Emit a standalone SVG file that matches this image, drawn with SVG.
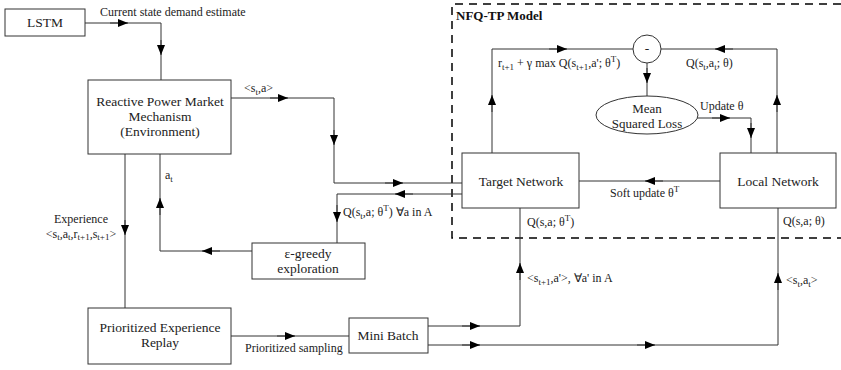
<svg xmlns="http://www.w3.org/2000/svg" width="841" height="370" viewBox="0 0 841 370">
<defs>
<marker id="ah" markerUnits="userSpaceOnUse" markerWidth="10" markerHeight="8" refX="10" refY="4" orient="auto">
<path d="M0,0 L10,4 L0,8 z" fill="#000"/>
</marker>
<style>
.box{fill:#fff;stroke:#333;stroke-width:1}
.ln{fill:none;stroke:#333;stroke-width:1}
.ar{fill:none;stroke:#333;stroke-width:1;marker-end:url(#ah)}
.nt{font-family:'Liberation Serif',serif;font-size:13.5px;fill:#222;text-anchor:middle}
.lb{font-family:'Liberation Serif',serif;font-size:12px;fill:#222}
.sb{font-size:9px}
.dash{fill:none;stroke:#000;stroke-width:1.5;stroke-dasharray:8,6}
</style>
</defs>
<rect width="841" height="370" fill="#fff"/>

<g id="nfq-tp-boundary">
<path class="dash" d="M841,4 H452 V238 H841"/>
<text x="456" y="20" font-family="Liberation Serif, serif" font-size="13" font-weight="bold" fill="#111">NFQ-TP Model</text>
</g>

<g id="connectors" font-family="Liberation Serif, serif">
<path class="ln" d="M85,23 H161 V80"/>
<path class="ar" d="M110,23 H128"/>
<path class="ar" d="M161,40 V55"/>
<path class="ln" d="M231,98 H334 V183 H462"/>
<path class="ar" d="M270,98 H288"/>
<path class="ar" d="M334,130 V145"/>
<path class="ar" d="M385,183 H403"/>
<path class="ln" d="M462,194 H337 V243"/>
<path class="ar" d="M413,194 H395"/>
<path class="ar" d="M337,205 V222"/>
<path class="ln" d="M252,251 H160 V154"/>
<path class="ar" d="M220,251 H202"/>
<path class="ar" d="M160,215 V198"/>
<path class="ln" d="M125,154 V308"/>
<path class="ar" d="M125,220 V235"/>
<path class="ln" d="M231,336 H349"/>
<path class="ar" d="M277,336 H295"/>
<path class="ln" d="M428,326 H520 V208"/>
<path class="ar" d="M462,326 H480"/>
<path class="ar" d="M520,280 V263"/>
<path class="ln" d="M428,345 H778 V208"/>
<path class="ar" d="M462,345 H480"/>
<path class="ar" d="M637,345 H655"/>
<path class="ar" d="M778,290 V273"/>
<path class="ln" d="M720,181 H579"/>
<path class="ar" d="M663,181 H645"/>
<path class="ln" d="M492,153 V49 H633"/>
<path class="ar" d="M492,112 V95"/>
<path class="ar" d="M549,49 H567"/>
<path class="ln" d="M777,153 V49 H661"/>
<path class="ar" d="M777,112 V95"/>
<path class="ar" d="M733,49 H715"/>
<path class="ln" d="M647,63 V96"/>
<path class="ar" d="M647,68 V83"/>
<path class="ln" d="M697,118 H751 V153"/>
<path class="ar" d="M712,118 H730"/>
<path class="ar" d="M751,123 V138"/>

<text class="lb" x="100" y="16">Current state demand estimate</text>
<text class="lb" x="244" y="92">&lt;s<tspan class="sb" dy="3">t</tspan><tspan dy="-3">,a&gt;</tspan></text>
<text class="lb" x="165" y="179">a<tspan class="sb" dy="3">t</tspan></text>
<text class="lb" x="81" y="223" text-anchor="middle">Experience</text>
<text class="lb" x="81" y="238" text-anchor="middle">&lt;s<tspan class="sb" dy="2">t</tspan><tspan dy="-2">,a</tspan><tspan class="sb" dy="2">t</tspan><tspan dy="-2">,r</tspan><tspan class="sb" dy="2">t+1</tspan><tspan dy="-2">,s</tspan><tspan class="sb" dy="2">t+1</tspan><tspan dy="-2">&gt;</tspan></text>
<text class="lb" x="343" y="216">Q(s<tspan class="sb" dy="3">t</tspan><tspan dy="-3">,a; θ</tspan><tspan class="sb" dy="-5">T</tspan><tspan dy="5">) ∀a in A</tspan></text>
<text class="lb" x="245" y="352">Prioritized sampling</text>
<text class="lb" x="527" y="282">&lt;s<tspan class="sb" dy="3">t+1</tspan><tspan dy="-3">,a'&gt;, ∀a' in A</tspan></text>
<text class="lb" x="786" y="284">&lt;s<tspan class="sb" dy="3">t</tspan><tspan dy="-3">,a</tspan><tspan class="sb" dy="3">t</tspan><tspan dy="-3">&gt;</tspan></text>
<text class="lb" x="527" y="226">Q(s,a; θ<tspan class="sb" dy="-5">T</tspan><tspan dy="5">)</tspan></text>
<text class="lb" x="783" y="225">Q(s,a; θ)</text>
<text class="lb" x="610" y="197">Soft update θ<tspan class="sb" dy="-5">T</tspan></text>
<text class="lb" x="498" y="67">r<tspan class="sb" dy="3">t+1</tspan><tspan dy="-3"> + γ max Q(s</tspan><tspan class="sb" dy="3">t+1</tspan><tspan dy="-3">,a'; θ</tspan><tspan class="sb" dy="-5">T</tspan><tspan dy="5">)</tspan></text>
<text class="lb" x="686" y="67">Q(s<tspan class="sb" dy="3">t</tspan><tspan dy="-3">,a</tspan><tspan class="sb" dy="3">t</tspan><tspan dy="-3">; θ)</tspan></text>
<text class="lb" x="700" y="110">Update θ</text>
</g>

<g id="lstm" font-family="Liberation Serif, serif">
<rect class="box" x="5" y="9" width="80" height="27"/>
<text class="nt" x="45" y="27">LSTM</text>
</g>
<g id="environment" font-family="Liberation Serif, serif">
<rect class="box" x="88" y="80" width="143" height="74"/>
<text class="nt" x="160" y="106">Reactive Power Market</text>
<text class="nt" x="160" y="121">Mechanism</text>
<text class="nt" x="160" y="136">(Environment)</text>
</g>
<g id="egreedy" font-family="Liberation Serif, serif">
<rect class="box" x="252" y="243" width="113" height="36"/>
<text class="nt" x="308" y="258">ε-greedy</text>
<text class="nt" x="308" y="273">exploration</text>
</g>
<g id="per" font-family="Liberation Serif, serif">
<rect class="box" x="88" y="308" width="143" height="56"/>
<text class="nt" x="160" y="332">Prioritized Experience</text>
<text class="nt" x="160" y="347">Replay</text>
</g>
<g id="minibatch" font-family="Liberation Serif, serif">
<rect class="box" x="349" y="318" width="79" height="35"/>
<text class="nt" x="388" y="340">Mini Batch</text>
</g>
<g id="target" font-family="Liberation Serif, serif">
<rect class="box" x="462" y="153" width="117" height="55"/>
<text class="nt" x="521" y="186">Target Network</text>
</g>
<g id="local" font-family="Liberation Serif, serif">
<rect class="box" x="720" y="153" width="116" height="55"/>
<text class="nt" x="778" y="186">Local Network</text>
</g>
<g id="minus" font-family="Liberation Serif, serif">
<circle class="box" cx="647" cy="49" r="14"/>
<text class="nt" x="647" y="53">-</text>
</g>
<g id="loss" font-family="Liberation Serif, serif">
<ellipse class="box" cx="647" cy="115" rx="51" ry="19"/>
<text class="nt" x="647" y="113" style="font-size:13px">Mean</text>
<text class="nt" x="647" y="128" style="font-size:13px">Squared Loss</text>
</g>
</svg>
